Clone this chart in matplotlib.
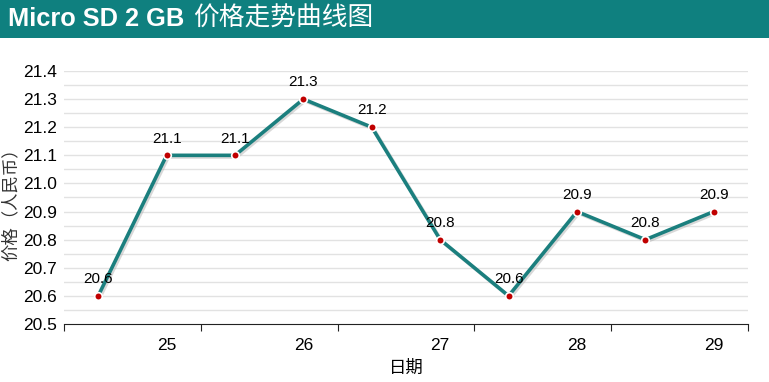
import matplotlib
matplotlib.use("Agg")
import matplotlib.pyplot as plt
import matplotlib.patheffects as pe
import numpy as np

plt.rcParams['font.family'] = ['Liberation Sans', 'Noto Sans CJK SC', 'DejaVu Sans']

title_latin = "Micro SD 2 GB"
title_cjk = "价格走势曲线图"
values = [20.6, 21.1, 21.1, 21.3, 21.2, 20.8, 20.6, 20.9, 20.8, 20.9]
tick_labels = ["25", "26", "27", "28", "29"]
y_ticks = [20.5, 20.6, 20.7, 20.8, 20.9, 21.0, 21.1, 21.2, 21.3, 21.4]

W, H = 769, 382
fig = plt.figure(figsize=(W/100, H/100), dpi=100)

# title bar
fig.patches.append(matplotlib.patches.Rectangle((0, 1 - 38/H), 1, 38/H, transform=fig.transFigure,
                                                 facecolor='#0f807f', edgecolor='none', zorder=0))
t1 = fig.text(8/W, 1 - 19/H, title_latin, color='white', fontsize=18.3, fontweight='bold', va='center', ha='left',
              family=['Liberation Sans'])
fig.canvas.draw()
bb = t1.get_window_extent()
fig.text((bb.x1 + 9)/W, 1 - 19/H, title_cjk, color='white', fontsize=18.5, va='center', ha='left',
         family=['Noto Sans CJK SC'])

left, right = 64, 748
top, bottom = 71, 324
ax = fig.add_axes([left/W, 1 - bottom/H, (right-left)/W, (bottom-top)/H])
n = len(values)
x = np.arange(n)
ax.set_xlim(-0.5, n - 0.5)
ax.set_ylim(20.5, 21.4)

# gridlines
for v in np.arange(20.55, 21.41, 0.05):
    ax.axhline(v, color='#e2e2e2', lw=1, zorder=0)

ax.plot(x, values, color='#1b7f7e', lw=2.6, zorder=3, solid_joinstyle='miter',
        path_effects=[pe.SimpleLineShadow(offset=(1.2, -1.2), shadow_color='#aaaaaa', alpha=0.45), pe.Normal()])
ax.scatter(x, values, s=30, color='#c00000', edgecolor='white', linewidth=1.2, zorder=4)
for xi, v in zip(x, values):
    ax.annotate(f"{v:.1f}", (xi, v), xytext=(0, 7), textcoords='offset points', ha='center', va='bottom',
                fontsize=11, color='black', zorder=5)

for s in ['left', 'right', 'top']:
    ax.spines[s].set_visible(False)
ax.spines['bottom'].set_color('#222222')

ax.set_yticks(y_ticks)
ax.set_yticklabels([f"{v:.1f}" for v in y_ticks], fontsize=12.5)
ax.tick_params(axis='y', length=0, pad=5)

# x ticks: marks at boundaries of every 2 categories, labels at odd indices
ax.set_xticks(np.arange(-0.5, n, 2))
ax.set_xticks(np.arange(1, n, 2), minor=True)
ax.set_xticklabels([])
ax.set_xticklabels(tick_labels, minor=True, fontsize=12.5)
ax.tick_params(axis='x', which='major', length=5, direction='out', color='#222222')
ax.tick_params(axis='x', which='minor', length=0, pad=10)
ax.set_facecolor('white')

ax.set_xlabel("日期", fontsize=12.5, family=['Noto Sans CJK SC'], labelpad=4)
fig.text(11/W, 1 - 200/H, "价格（人民币）", rotation=90, fontsize=12.5, va='center', ha='center',
         family=['Noto Sans CJK SC'], color='#333333')

fig.savefig("out.png", dpi=100)
